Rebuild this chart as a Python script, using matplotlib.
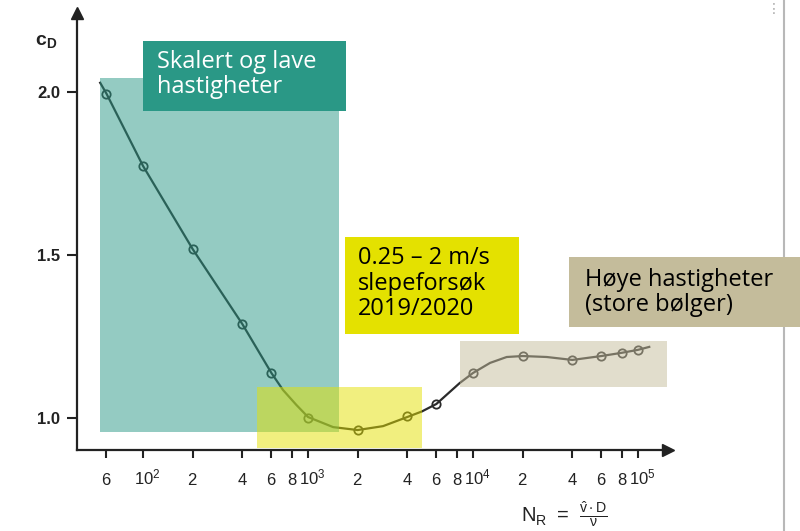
import matplotlib
matplotlib.use("Agg")
import matplotlib.pyplot as plt
import matplotlib.transforms as mtransforms
from matplotlib.patches import Rectangle

# Drag coefficient c_D versus Reynolds number N_R
reynolds_pts = [60, 100, 200, 400, 600, 1000, 2000, 4000, 6000,
                1e4, 2e4, 4e4, 6e4, 8e4, 1e5]
cd_pts = [1.995, 1.773, 1.518, 1.288, 1.138, 1.000, 0.963, 1.005, 1.043,
          1.138, 1.190, 1.178, 1.190, 1.200, 1.209]

# Faired curve through the measurements
curve_re = [55, 60, 100, 200, 400, 600, 705, 850, 1000, 1420, 2000, 2850,
            4000, 4900, 6000, 8300, 1e4, 12700, 16000, 2e4, 28000, 4e4,
            6e4, 8e4, 1e5, 1.17e5]
curve_cd = [2.028, 1.995, 1.773, 1.518, 1.288, 1.138, 1.086, 1.040, 1.003,
            0.972, 0.963, 0.975, 1.003, 1.020, 1.043, 1.107, 1.138, 1.169,
            1.187, 1.190, 1.187, 1.178, 1.190, 1.200, 1.209, 1.218]

xtick_vals = [60, 100, 200, 400, 600, 800, 1000, 2000, 4000, 6000, 8000,
              1e4, 2e4, 4e4, 6e4, 8e4, 1e5]
xtick_text = ["6", "10^{2}", "2", "4", "6", "8", "10^{3}", "2", "4", "6", "8",
              "10^{4}", "2", "4", "6", "8", "10^{5}"]
ytick_vals = [1.0, 1.5, 2.0]
ytick_text = ["1.0", "1.5", "2.0"]

# Highlighted regimes: (N_R from, N_R to, c_D from, c_D to)
region_names = [["Skalert og lave", "hastigheter"],
                ["0.25 – 2 m/s", "slepeforsøk", "2019/2020"],
                ["Høye hastigheter", "(store bølger)"]]
region_spans = [(55, 1540, 0.957, 2.043),
                (490, 4900, 0.908, 1.095),
                (8340, 1.5e5, 1.095, 1.236)]
region_colors = ["#2A9886", "#E4E100", "#C4BC9B"]
region_text_colors = ["white", "black", "black"]

W, H = 800, 531
fig = plt.figure(figsize=(W / 100, H / 100), dpi=100)
fig.patch.set_facecolor("white")


def fx(px):
    return px / W


def fy(py):
    return 1 - py / H


ax = fig.add_axes([fx(77), fy(450), fx(668) - fx(77), fy(13) - fy(450)])
ax.set_xscale("log")
ax.set_xlim(39.8, 1.52e5)
ax.set_ylim(0.9018, 2.242)

ink = "#222222"
ax.plot(curve_re, curve_cd, color="#2b2b2b", lw=1.6, zorder=2)
ax.plot(reynolds_pts, cd_pts, ls="none", marker="o", ms=6,
        mfc="none", mec="#2b2b2b", mew=1.3, zorder=3)

for s in ("top", "right"):
    ax.spines[s].set_visible(False)
for s in ("left", "bottom"):
    ax.spines[s].set_color(ink)
    ax.spines[s].set_linewidth(1.6)
ax.plot(1, 0, marker=">", ms=8, color=ink, transform=ax.transAxes, clip_on=False)
ax.plot(0, 1, marker="^", ms=8, color=ink, transform=ax.transAxes, clip_on=False)

ax.set_xticks(xtick_vals)
ax.set_xticklabels([r"$\mathregular{%s}$" % t for t in xtick_text],
                   fontsize=12, color=ink, family="Liberation Sans")
ax.xaxis.set_minor_locator(matplotlib.ticker.NullLocator())
ax.tick_params(axis="x", direction="out", length=6, width=1.5, color=ink, pad=19)
# powers of ten: the "10" sits on its tick, the exponent hangs to the right
shift_left = mtransforms.ScaledTranslation(-0.093, 0, fig.dpi_scale_trans)
for lab, t in zip(ax.get_xticklabels(), xtick_text):
    lab.set_verticalalignment("baseline")
    if t.startswith("10^"):
        lab.set_horizontalalignment("left")
        lab.set_transform(lab.get_transform() + shift_left)

ax.set_yticks(ytick_vals)
ax.set_yticklabels(ytick_text, fontsize=12, fontweight="bold", color=ink,
                   family="Liberation Sans")
ax.tick_params(axis="y", direction="out", length=7, width=1.5, color=ink, pad=5)

fig.text(fx(35), fy(45), r"$\mathregular{c_D}$", fontsize=14, color=ink,
         family="Liberation Sans", fontweight="bold", va="baseline")
fig.text(fx(521), fy(514),
         r"$\mathregular{N_R\ =\ \frac{\hat{v}\cdot D}{\nu}}$",
         fontsize=14.5, color=ink, family="Liberation Sans", va="center")

# Shaded regimes on the curve
for (x0, x1, y0, y1), c in zip(region_spans, region_colors):
    ax.add_patch(Rectangle((x0, y0), x1 - x0, y1 - y0, facecolor=c,
                           alpha=0.5, edgecolor="none", zorder=4))

# Slide frame edge at the right
fig.add_artist(plt.Line2D([fx(784), fx(784)], [0, 1], color="#b8b8b8",
                          lw=1.5, zorder=1))
fig.text(fx(774), fy(2), "⋮", fontsize=10, color="#aaaaaa", va="top",
         ha="center")

# Caption boxes
box_px = [(143, 41, 346, 111), (345, 237, 519, 334), (569, 257, 805, 327)]
text_x = [157, 358, 585]
text_baselines = [[68, 93], [264, 290, 315], [286, 311]]
for (x0, y0, x1, y1), tx, bases, lines, c, tc in zip(
        box_px, text_x, text_baselines, region_names, region_colors,
        region_text_colors):
    fig.add_artist(Rectangle((fx(x0), fy(y1)), fx(x1) - fx(x0),
                             fy(y0) - fy(y1), transform=fig.transFigure,
                             facecolor=c, edgecolor="none", zorder=5))
    for line, b in zip(lines, bases):
        fig.text(fx(tx), fy(b), line, fontsize=17, color=tc,
                 family="Open Sans", va="baseline", ha="left", zorder=6)

fig.savefig("out.png", dpi=100)
